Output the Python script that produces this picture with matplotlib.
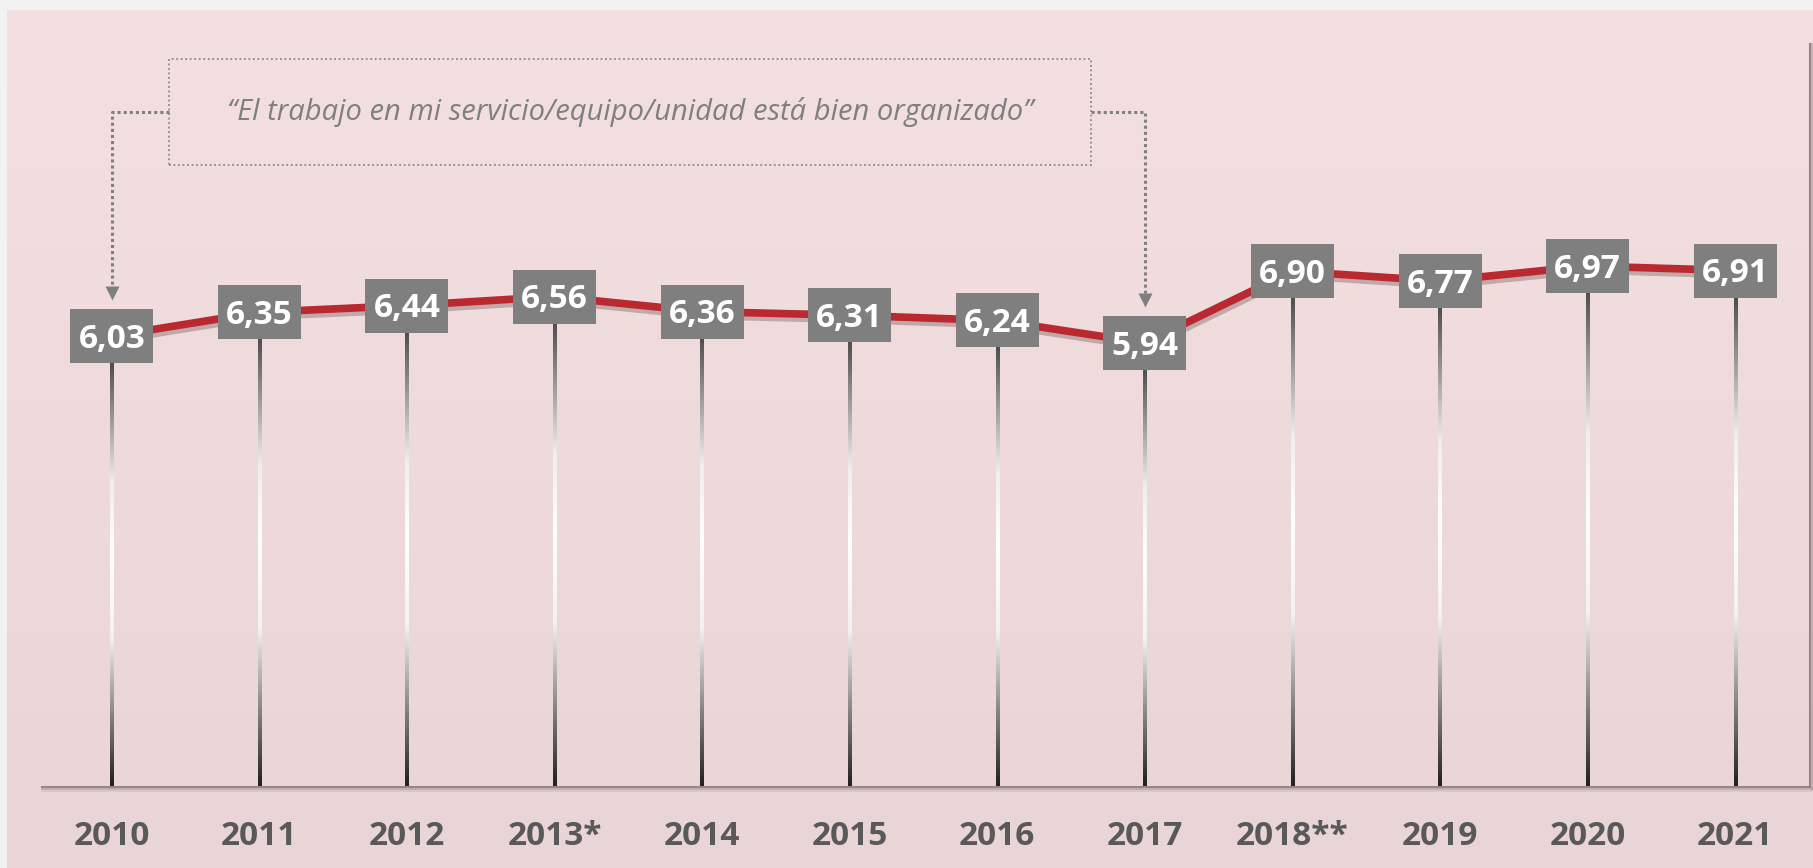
import numpy as np
import matplotlib.pyplot as plt
from matplotlib.patches import Rectangle
from matplotlib.lines import Line2D
from matplotlib.colors import LinearSegmentedColormap
import matplotlib.patheffects as pe

plt.rcParams['font.family'] = ['Open Sans', 'DejaVu Sans']

# -------------------------
# Data
# -------------------------
years = ['2010', '2011', '2012', '2013*', '2014', '2015', '2016', '2017',
         '2018**', '2019', '2020', '2021']
scores = [6.03, 6.35, 6.44, 6.56, 6.36, 6.31, 6.24, 5.94, 6.90, 6.77, 6.97, 6.91]
quote = '\u201cEl trabajo en mi servicio/equipo/unidad está bien organizado\u201d'
arrow_targets = [0, 7]   # 2010 and 2017

W, H = 1813, 868
fig = plt.figure(figsize=(W / 100, H / 100), dpi=100)
fig.patch.set_facecolor('#f2f2f2')

# pink panel with soft vertical gradient
bg = fig.add_axes([7 / W, 0, 1 - 7 / W, (H - 10) / H])
pink = LinearSegmentedColormap.from_list('pink', ['#f4e0e1', '#e9d5d6'])
bg.imshow(np.linspace(0, 1, 256)[:, None], aspect='auto', cmap=pink,
          extent=[0, 1, 0, 1], origin='upper')
bg.axis('off')

# plot area
ax_l, ax_b, ax_r, ax_t = 38, 786, 1809, 40   # pixel edges
ax = fig.add_axes([ax_l / W, 1 - ax_b / H, (ax_r - ax_l) / W, (ax_b - ax_t) / H])
ax.set_facecolor('none')

px_x = (ax_r - ax_l) / 12.0
px_y = (ax_b - ax_t) / 10.0
box_w = 83 / px_x
box_h = 54 / px_y

# drop shadow of the plot area (bottom and right edges)
for off, col, a in [(1, '#8f7c7d', 0.9), (3, '#a08c8d', 0.5), (5, '#b9a5a6', 0.3)]:
    fig.add_artist(Line2D([(ax_l + 4) / W, (ax_r + off) / W],
                          [1 - (ax_b + off) / H] * 2, transform=fig.transFigure,
                          color=col, lw=1.5, alpha=a))
    fig.add_artist(Line2D([(ax_r + off) / W] * 2,
                          [1 - (ax_t + 4) / H, 1 - (ax_b + off) / H],
                          transform=fig.transFigure, color=col, lw=1.5, alpha=a))

x = np.arange(len(years))

# gradient stems (drawn as thin images)
stem_cmap = LinearSegmentedColormap.from_list(
    'stem', [(0, '#505050'), (0.28, '#eeeeee'), (0.45, '#ffffff'),
             (0.65, '#f2f2f2'), (1, '#222222')])
stem_w = 3.4 / px_x
grad = np.linspace(0, 1, 200)[:, None]
for xi, v in zip(x, scores):
    ax.imshow(grad, cmap=stem_cmap, aspect='auto', origin='upper',
              interpolation='bilinear', zorder=2,
              extent=[xi - stem_w / 2, xi + stem_w / 2, 0, v - box_h / 2])

ax.set_xlim(-0.5, 11.5)
ax.set_ylim(0, 10)
ax.axis('off')

# red line with shadow
ax.plot(x, scores, color='#b9292f', lw=5.5, solid_capstyle='butt', zorder=3,
        path_effects=[pe.SimpleLineShadow(offset=(1, -3), shadow_color='#6b4a4b',
                                          alpha=0.35), pe.Normal()])

# value boxes
for xi, v in zip(x, scores):
    ax.add_patch(Rectangle((xi - box_w / 2, v - box_h / 2), box_w, box_h,
                           facecolor='#7f7f7f', edgecolor='none', zorder=4))
    ax.annotate(f'{v:.2f}'.replace('.', ','), (xi, v), xytext=(0, -8.5),
                textcoords='offset points', ha='center', va='baseline',
                fontsize=24, fontweight='bold', color='white', zorder=5)

# year labels
for xi, yr in zip(x, years):
    ax.text(xi, -59 / px_y, yr, ha='center', va='baseline', fontsize=24,
            fontweight='bold', color='#595959', clip_on=False)

# quote box
qx0, qx1 = (169 - 112) / px_x, (1091 - 112) / px_x
qy0, qy1 = (ax_b - 165) / px_y, (ax_b - 59) / px_y
qmid = (ax_b - 112) / px_y
ax.add_patch(Rectangle((qx0, qy0), qx1 - qx0, qy1 - qy0, fill=False,
                       edgecolor='#8a8a8a', lw=1.3, ls=(0, (1, 1.5)),
                       clip_on=False))
ax.text((qx0 + qx1) / 2, qmid, quote, ha='center', va='center', fontsize=21,
        style='italic', color='#7f7f7f')

# dotted connectors with arrow heads
gap = 9 / px_y
head = 13.9 / px_y
for i, side in zip(arrow_targets, [qx0, qx1]):
    tip = scores[i] + box_h / 2 + gap
    ax.plot([side, x[i], x[i]], [qmid, qmid, tip + head], color='#7f7f7f',
            lw=2.2, ls=(0, (1, 1)), clip_on=False, zorder=3)
    ax.plot(x[i], tip + head / 2, marker='v', ms=10, color='#7f7f7f',
            mec='none', zorder=3)

plt.savefig('out.png', dpi=100, facecolor=fig.get_facecolor())
